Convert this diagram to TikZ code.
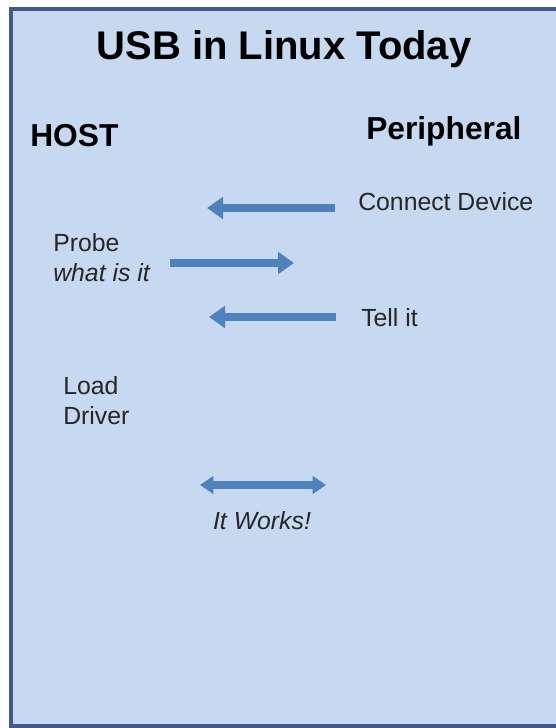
\documentclass[tikz,border=0pt]{standalone}
\usepackage{fontspec}
\setmainfont{Liberation Sans}
\usetikzlibrary{arrows.meta}
\definecolor{slidefill}{RGB}{198,217,240}
\definecolor{slideedge}{RGB}{65,90,138}
\definecolor{arrowblue}{RGB}{79,129,189}
\definecolor{textgray}{RGB}{38,38,38}
\tikzset{
  label/.style={anchor=base west, inner sep=0pt, text=textgray, font=\fontsize{18.6}{22}\selectfont},
  heading/.style={anchor=base west, inner sep=0pt, font=\fontsize{23.8}{28}\selectfont\bfseries},
  flow/.style={draw=arrowblue, line width=6.5pt, -{Triangle[length=12pt,width=16pt]}},
  both/.style={draw=arrowblue, line width=5.5pt, {Triangle[length=10pt,width=13pt]}-{Triangle[length=10pt,width=13pt]}}
}
\begin{document}
\begin{tikzpicture}[x=0.75pt,y=-0.75pt]
		\useasboundingbox (0,0) rectangle (556,728);
		\filldraw[fill=slidefill, draw=slideedge, line width=3pt] (11,9) rectangle (566,726);

		\node[anchor=base, inner sep=0pt, font=\fontsize{30}{36}\selectfont\bfseries] (title) at (284,59) {USB in Linux Today};
		\node[heading] (host) at (30,146) {HOST};
		\node[heading] (peripheral) at (366,139) {Peripheral};

		\node[label] (connect) at (358,210) {Connect Device};
		\node[label] (probe) at (53,251) {Probe};
		\node[label] (whatisit) at (53,281) {\itshape what is it};
		\node[label] (tellit) at (361,326) {Tell it};
		\node[label] (load) at (63,394) {Load};
		\node[label] (driver) at (63,424) {Driver};
		\node[label, anchor=base] (works) at (262,529) {\itshape It Works!};

		% arrow ends
		\coordinate (c1) at (335,208);
		\coordinate (h1) at (207,208);
		\coordinate (c2) at (170,263);
		\coordinate (h2) at (294,263);
		\coordinate (c3) at (336,317);
		\coordinate (h3) at (209,317);
		\coordinate (l4) at (200,485);
		\coordinate (r4) at (326,485);

		\draw[flow] (c1) -- (h1);
		\draw[flow] (c2) -- (h2);
		\draw[flow] (c3) -- (h3);
		\draw[both] (l4) -- (r4);
\end{tikzpicture}
\end{document}
